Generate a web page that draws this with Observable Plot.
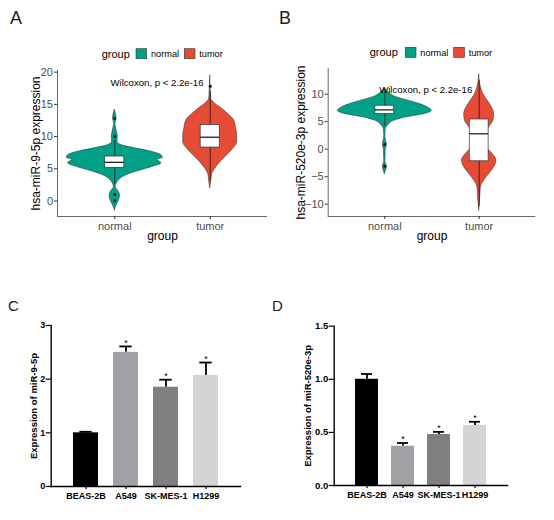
<!DOCTYPE html>
<html>
<head>
<meta charset="utf-8">
<script src="https://cdn.jsdelivr.net/npm/d3@7"></script>
<script src="https://cdn.jsdelivr.net/npm/@observablehq/plot@0.6"></script>
<style>
  body { margin: 0; background: #fff; }
  #fig { position: relative; width: 554px; height: 520px; background: #fff; overflow: hidden;
         font-family: "Liberation Sans", Arial, Helvetica, sans-serif; }
  #fig svg { position: absolute; }
</style>
</head>
<body>
<div id="fig"></div>
<script>
// ---------- shared categories ----------
const groups = ["normal", "tumor"];
const groupFill = ["#00A087", "#E64B35"];

// ---------- Panel A: hsa-miR-9-5p (violin: value, half-width density) ----------
const aNormalVal = [-1.45, -0.7, 0, 0.85, 1.6, 2.1, 2.9, 3.7, 4.2, 4.7, 5.25, 5.87, 6.4, 6.7, 7.07, 7.6, 8.1, 8.6, 9.1, 10.0, 10.9, 12.0, 12.8, 14.2];
const aNormalDen = [0, 0.018, 0.042, 0.055, 0.035, 0.010, 0.028, 0.084, 0.157, 0.262, 0.387, 0.489, 0.447, 0.503, 0.492, 0.398, 0.241, 0.084, 0.028, 0.031, 0.021, 0.007, 0.018, 0];
const aTumorVal = [2.0, 2.9, 4.0, 5.0, 6.0, 7.1, 8.1, 9.1, 10.2, 11.2, 12.5, 13.5, 14.3, 15.1, 15.9, 17.5, 19.5];
const aTumorDen = [0, 0.010, 0.018, 0.052, 0.105, 0.178, 0.241, 0.283, 0.283, 0.272, 0.251, 0.188, 0.126, 0.052, 0.010, 0.005, 0];
const aQ1 = [5.15, 8.3];
const aMedian = [6.0, 9.9];
const aQ3 = [6.9, 11.8];
const aWhiskLo = [2.6, 3.1];
const aWhiskHi = [9.4, 17.0];
const aOutliers = [[12.8, 10.0, 1.0, 0.05], [17.8]];
const aTicks = [0, 5, 10, 15, 20];

// ---------- Panel B: hsa-miR-520e-3p ----------
const bNormalVal = [-4.5, -3.1, -2.2, -1.45, -0.25, 0.85, 2.2, 3.7, 4.3, 5.2, 5.8, 6.4, 7.0, 7.6, 8.2, 8.85, 9.45, 10.4, 11.15];
const bNormalDen = [0, 0.021, 0.005, 0.008, 0.008, 0.021, 0.006, 0.011, 0.035, 0.106, 0.233, 0.424, 0.498, 0.455, 0.371, 0.244, 0.124, 0.035, 0];
const bTumorVal = [-11.15, -8.7, -6.9, -5.7, -4.5, -3.27, -2.06, -0.85, 0.36, 1.6, 2.8, 4.0, 5.2, 6.4, 7.6, 8.85, 10.1, 11.3, 13.6];
const bTumorDen = [0, 0.011, 0.018, 0.053, 0.106, 0.159, 0.183, 0.141, 0.077, 0.053, 0.071, 0.106, 0.151, 0.159, 0.135, 0.088, 0.042, 0.018, 0];
const bQ1 = [6.4, -2.2];
const bMedian = [7.15, 2.8];
const bQ3 = [7.9, 5.4];
const bWhiskLo = [4.2, -10.5];
const bWhiskHi = [10.2, 12.5];
const bOutliers = [[0.85, -3.1], []];
const bTicks = [-10, -5, 0, 5, 10];

const wilcoxText = "Wilcoxon, p < 2.2e-16";

// ---------- Panels C & D: qPCR bars ----------
const cellLines = ["BEAS-2B", "A549", "SK-MES-1", "H1299"];
const barFill = ["#000000", "#A0A0A5", "#7F7F7F", "#D4D4D4"];
const significant = [false, true, true, true];
const cMean = [1.00, 2.50, 1.85, 2.07];
const cErr = [0.02, 0.11, 0.14, 0.24];
const cTicks = [0, 1, 2, 3];
const dMean = [1.00, 0.37, 0.48, 0.565];
const dErr = [0.05, 0.03, 0.025, 0.035];
const dTicks = [0, 0.5, 1.0, 1.5];

const fig = document.getElementById("fig");
const FONT = "Liberation Sans, Arial, Helvetica, sans-serif";

function place(svg, left, top) {
  svg.style.left = left + "px";
  svg.style.top = top + "px";
  fig.appendChild(svg);
}

function violinPanel(o) {
  const rows = [];
  o.vals.forEach((vals, gi) => vals.forEach((v, j) => {
    const w = o.dens[gi][j];
    rows.push({g: gi, y: v, x1: gi + 1 - w, x2: gi + 1 + w});
  }));
  const boxes = groups.map((g, gi) => ({pos: gi + 1, q1: o.q1[gi], med: o.med[gi], q3: o.q3[gi], lo: o.lo[gi], hi: o.hi[gi]}));
  const outs = o.outliers.flatMap((arr, gi) => arr.map(v => ({pos: gi + 1, v})));
  const bh = 0.1;
  return Plot.plot({
    width: 277, height: 260,
    marginLeft: o.ml, marginTop: o.mt, marginRight: o.mr, marginBottom: o.mb,
    x: {domain: [0.4, 2.6]},
    y: {domain: o.yDomain},
    style: {fontFamily: FONT, background: "transparent", overflow: "visible"},
    marks: [
      ...groups.map((g, gi) => Plot.areaX(rows.filter(r => r.g === gi), {
        y: "y", x1: "x1", x2: "x2", fill: groupFill[gi], stroke: "#333", strokeWidth: 0.55, curve: "monotone-y"
      })),
      Plot.ruleX(boxes, {x: "pos", y1: "lo", y2: "hi", stroke: "#1a1a1a", strokeWidth: 0.8}),
      Plot.rect(boxes, {x1: d => d.pos - bh, x2: d => d.pos + bh, y1: "q1", y2: "q3", fill: "white", stroke: "#333", strokeWidth: 0.7}),
      Plot.ruleY(boxes, {y: "med", x1: d => d.pos - bh, x2: d => d.pos + bh, stroke: "#222", strokeWidth: 1.3}),
      Plot.dot(outs, {x: "pos", y: "v", r: 1.5, fill: "#111", stroke: null}),
      Plot.ruleX([0.4], {stroke: "#444", strokeWidth: 0.8}),
      Plot.ruleY([o.yDomain[0]], {stroke: "#444", strokeWidth: 0.8}),
      Plot.axisY({ticks: o.yTicks, tickSize: 3, tickPadding: 1.5, fontSize: 11, fill: "#4D4D4D", stroke: "#333", label: null}),
      Plot.axisX({ticks: [1, 2], tickFormat: v => groups[v - 1], tickSize: 3, tickPadding: 2.5, fontSize: 11, fill: "#4D4D4D", stroke: "#333", label: null}),
      Plot.text([o.ylabel], {text: d => d, frameAnchor: "left", textAnchor: "middle", rotate: -90, dx: -o.ylabOff, lineAnchor: "top", fontSize: 12, fill: "#000"}),
      Plot.text(["group"], {text: d => d, frameAnchor: "bottom", textAnchor: "middle", dy: 23, lineAnchor: "bottom", fontSize: 12, fill: "#000"}),
      Plot.text([wilcoxText], {text: d => d, x: () => o.wx, y: () => o.wy, textAnchor: "start", lineAnchor: "middle", fontSize: 9.6, fill: "#000"})
    ]
  });
}

function barPanel(o) {
  const rows = cellLines.map((c, i) => ({c, mean: o.mean[i], top: o.mean[i] + o.err[i], sig: significant[i], fill: barFill[i]}));
  return Plot.plot({
    width: 277, height: 230,
    marginLeft: o.ml, marginTop: o.mt, marginRight: o.mr, marginBottom: o.mb,
    x: {domain: cellLines, paddingInner: o.pi, paddingOuter: o.po},
    y: {domain: o.yDomain},
    color: {type: "identity"},
    style: {fontFamily: FONT, background: "transparent", overflow: "visible"},
    marks: [
      Plot.ruleX(rows, {x: "c", y1: "mean", y2: "top", stroke: "#000", strokeWidth: 1.8}),
      Plot.tickY(rows, {x: "c", y: "top", stroke: "#000", strokeWidth: 1.8, insetLeft: o.cap, insetRight: o.cap}),
      Plot.barY(rows, {x: "c", y: "mean", fill: "fill"}),
      Plot.text(rows.filter(d => d.sig), {x: "c", y: "top", text: () => "*", dy: -3.5, fontSize: 9, fill: "#000"}),
      Plot.axisX({tickSize: 3, tickPadding: 3, fontSize: 9, fontWeight: "bold", fill: "#000", stroke: "#000", strokeWidth: 1.2, label: null}),
      Plot.axisY({ticks: o.yTicks, tickFormat: o.fmt, tickSize: 5, tickPadding: 1, fontSize: o.tickFs, fontWeight: "bold", fill: "#000", stroke: "#000", strokeWidth: 1.2, label: null}),
      Plot.frame({anchor: "left", stroke: "#000", strokeWidth: 1.4}),
      Plot.frame({anchor: "bottom", stroke: "#000", strokeWidth: 1.4}),
      Plot.text([o.ylabel], {text: d => d, frameAnchor: "left", textAnchor: "middle", rotate: -90, dx: -o.ylabOff, lineAnchor: "top", fontSize: 9.5, fontWeight: "bold", fill: "#000"})
    ]
  });
}

place(violinPanel({
  vals: [aNormalVal, aTumorVal], dens: [aNormalDen, aTumorDen],
  q1: aQ1, med: aMedian, q3: aQ3, lo: aWhiskLo, hi: aWhiskHi, outliers: aOutliers,
  yDomain: [-2.41, 20.26], yTicks: aTicks,
  ml: 57, mt: 70, mr: 10, mb: 44, ylabOff: 26.3,
  ylabel: "hsa-miR-9-5p expression", wx: 0.955, wy: 18.4
}), 0, 0);

place(violinPanel({
  vals: [bNormalVal, bTumorVal], dens: [bNormalDen, bTumorDen],
  q1: bQ1, med: bMedian, q3: bQ3, lo: bWhiskLo, hi: bWhiskHi, outliers: bOutliers,
  yDomain: [-12.24, 14.67], yTicks: bTicks,
  ml: 50.7, mt: 68, mr: 18.7, mb: 44, ylabOff: 31.4,
  ylabel: "hsa-miR-520e-3p expression", wx: 0.94, wy: 10.8
}), 277, 0);

place(barPanel({
  mean: cMean, err: cErr, yDomain: [0, 3], yTicks: cTicks, fmt: d3.format("d"),
  ml: 50.7, mt: 35, mr: 37, mb: 34, pi: 0.37, po: 0.5, cap: 6.3, tickFs: 9,
  ylabel: "Expression of miR-9-5p", ylabOff: 21.4
}), 0, 290);

place(barPanel({
  mean: dMean, err: dErr, yDomain: [0, 1.5], yTicks: dTicks, fmt: d3.format(".1f"),
  ml: 56.7, mt: 35.7, mr: 47, mb: 35, pi: 0.36, po: 0.55, cap: 6, tickFs: 9.5,
  ylabel: "Expression of miR-520e-3p", ylabOff: 30
}), 277, 290);

// ---------- overlay: panel letters and legends ----------
const ov = d3.select(fig).append("svg")
  .attr("width", 554).attr("height", 520)
  .style("left", "0px").style("top", "0px")
  .style("font-family", FONT);

const letters = [
  {t: "A", x: 10, y: 24, s: 18},
  {t: "B", x: 279, y: 24, s: 18},
  {t: "C", x: 8, y: 310.7, s: 15},
  {t: "D", x: 272, y: 310.5, s: 15}
];
ov.selectAll("text.letter").data(letters).join("text")
  .attr("class", "letter").attr("x", d => d.x).attr("y", d => d.y)
  .attr("font-size", d => d.s).attr("fill", "#222").text(d => d.t);

function legend(x0, titleBase, keyTop, xs) {
  ov.append("text").attr("x", x0).attr("y", titleBase).attr("font-size", 11).attr("fill", "#000").text("group");
  groups.forEach((g, i) => {
    ov.append("rect").attr("x", xs[i]).attr("y", keyTop).attr("width", 10.7).attr("height", 10)
      .attr("fill", groupFill[i]).attr("stroke", "#333").attr("stroke-width", 0.6);
    ov.append("text").attr("x", xs[i] + 15).attr("y", keyTop + 8.3).attr("font-size", 9.2).attr("fill", "#000").text(g);
  });
}
legend(101.7, 57.5, 48.7, [136, 184.3]);
legend(369.7, 56, 47.3, [405.3, 453.7]);
</script>
</body>
</html>
